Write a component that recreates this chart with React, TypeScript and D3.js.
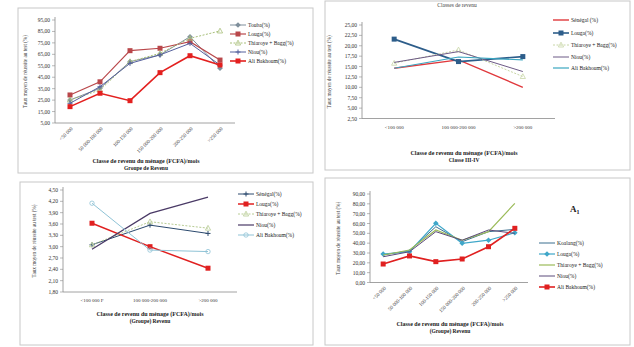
import * as d3 from 'd3'

// ---- data ----
const names1 = ['Touba(%)', 'Louga(%)', 'Thiaroye + Bagg(%)', 'Niou(%)', 'Ali Bakhoum(%)']
const names4 = ['Koalang(%)', 'Louga(%)', 'Thiaroye + Bagg(%)', 'Niou(%)', 'Ali Bakhoum(%)']

const cats6 = ['<50 000', '50 000-100 000', '100-150 000', '150 000-200 000', '200-250 000', '>250 000']
const cats3a = ['<100 000', '100 000-200 000', '>200 000']
const cats3b = ['<100 000 F', '100 000-200 000', '>200 000']

const ticksA = [5, 15, 25, 35, 45, 55, 65, 75, 85, 95]
const ticksB = [2.5, 5, 7.5, 10, 12.5, 15, 17.5, 20, 22.5, 25]
const ticksC = [1.8, 2.1, 2.4, 2.7, 3.0, 3.3, 3.6, 3.9, 4.2, 4.5]
const ticksD = [0, 10, 20, 30, 40, 50, 60, 70, 80, 90]

const a1 = [25.1, 35.3, 58.6, 64.5, 80.4, 52.8]
const a2 = [29.5, 41.0, 68.2, 70.3, 76.0, 60.0]
const a3 = [25.1, 33.8, 58.6, 65.9, 79.0, 85.4]
const a4 = [22.2, 36.7, 57.1, 64.5, 74.6, 55.6]
const a5 = [19.3, 31.0, 24.5, 49.0, 63.8, 55.7]

const b1 = [14.6, 16.6, 10.0]
const b2 = [21.6, 16.2, 17.4]
const b3 = [15.8, 19.0, 12.6]
const b4 = [16.0, 18.6, 13.8]
const b5 = [14.6, 17.3, 16.6]

const c1 = [3.05, 3.57, 3.35]
const c2 = [3.62, 3.0, 2.43]
const c3 = [3.05, 3.66, 3.49]
const c4 = [2.93, 3.88, 4.31]
const c5 = [4.15, 2.91, 2.87]

const d1 = [28.0, 32.3, 56.7, 41.5, 51.7, 54.0]
const d2 = [29.0, 31.3, 60.2, 39.9, 43.0, 50.6]
const d3v = [28.0, 33.0, 53.4, 43.0, 51.7, 80.5]
const d4 = [26.2, 31.3, 51.7, 43.0, 53.4, 50.0]
const d5 = [18.8, 27.0, 21.2, 23.9, 36.4, 55.1]

type Marker = 'square' | 'diamond' | 'triangle' | 'cross' | 'circle' | 'none'
interface Series { name: string; values: number[]; color: string; width: number; dash?: string; marker: Marker }
interface PanelCfg {
  box: [number, number, number, number]
  left: number; right: number; top: number; bottom: number
  cats: string[]; ticks: number[]; dec: number
  series: Series[]
  rotate: boolean
  legendX: number; legendY: number[]
  yTitleX: number
  xTitle: [string, string]; xTitleX: number; xTitleY: number
  title?: [string, number, number]
}

const font = '"Liberation Serif", "DejaVu Serif", serif'

function MarkerShape({ m, x, y, c }: { m: Marker; x: number; y: number; c: string }) {
  if (m === 'square') return <rect x={x - 2.5} y={y - 2.5} width={5} height={5} fill={c} />
  if (m === 'diamond') return <path d={`M${x},${y - 2.8}L${x + 2.8},${y}L${x},${y + 2.8}L${x - 2.8},${y}Z`} fill={c} />
  if (m === 'triangle') return <path d={`M${x},${y - 2.8}L${x + 2.6},${y + 2}L${x - 2.6},${y + 2}Z`} fill="none" stroke={c} strokeWidth={0.8} />
  if (m === 'cross') return <path d={`M${x - 2.5},${y}H${x + 2.5}M${x},${y - 2.5}V${y + 2.5}`} stroke={c} strokeWidth={1} />
  if (m === 'circle') return <circle cx={x} cy={y} r={2.2} fill="none" stroke={c} strokeWidth={0.8} />
  return null
}

function Panel({ cfg }: { cfg: PanelCfg }) {
  const x = d3.scalePoint<string>().domain(cfg.cats).range([cfg.left, cfg.right]).padding(0.5)
  const y = d3.scaleLinear().domain([cfg.ticks[0], cfg.ticks[cfg.ticks.length - 1]]).range([cfg.bottom, cfg.top])
  const line = d3.line<number>().x((_, i) => x(cfg.cats[i]) as number).y(v => y(v))
  const fmt = (v: number) => v.toFixed(cfg.dec).replace('.', ',')
  const [bx, by, bw, bh] = cfg.box
  const mid = (cfg.top + cfg.bottom) / 2
  return (
    <g>
      <rect x={bx} y={by} width={bw} height={bh} fill="#fff" stroke="#c8c8c8" strokeWidth={1} />
      {cfg.title && (
        <text x={cfg.title[1]} y={cfg.title[2]} fontSize={5.5} textAnchor="middle" fill="#444">{cfg.title[0]}</text>
      )}
      <line x1={cfg.left} x2={cfg.left} y1={cfg.top - 3} y2={cfg.bottom} stroke="#8a8a8a" strokeWidth={0.8} />
      <line x1={cfg.left} x2={cfg.right} y1={cfg.bottom} y2={cfg.bottom} stroke="#8a8a8a" strokeWidth={0.8} />
      {cfg.ticks.map(t => (
        <g key={t}>
          <line x1={cfg.left - 3} x2={cfg.left} y1={y(t)} y2={y(t)} stroke="#8a8a8a" strokeWidth={0.6} />
          <text x={cfg.left - 5} y={y(t) + 2} fontSize={5.5} textAnchor="end" fill="#333">{fmt(t)}</text>
        </g>
      ))}
      <text transform={`translate(${cfg.yTitleX},${mid}) rotate(-90)`} fontSize={5.2} textAnchor="middle" fill="#444">
        Taux moyen de réussite au test (%)
      </text>
      {cfg.cats.map(c => {
        const cx = x(c) as number
        return cfg.rotate ? (
          <text key={c} transform={`translate(${cx + 3},${cfg.bottom + 6}) rotate(-45)`} fontSize={5} textAnchor="end" fill="#333">{c}</text>
        ) : (
          <text key={c} x={cx} y={cfg.bottom + 10} fontSize={5} textAnchor="middle" fill="#333">{c}</text>
        )
      })}
      {cfg.series.map(s => (
        <g key={s.name}>
          <path d={line(s.values) || ''} fill="none" stroke={s.color} strokeWidth={s.width} strokeDasharray={s.dash} />
          {s.values.map((v, i) => (
            <MarkerShape key={i} m={s.marker} x={x(cfg.cats[i]) as number} y={y(v)} c={s.color} />
          ))}
        </g>
      ))}
      {cfg.series.map((s, i) => (
        <g key={'lg' + i}>
          <line x1={cfg.legendX} x2={cfg.legendX + 16} y1={cfg.legendY[i]} y2={cfg.legendY[i]} stroke={s.color} strokeWidth={s.width} strokeDasharray={s.dash} />
          <MarkerShape m={s.marker} x={cfg.legendX + 8} y={cfg.legendY[i]} c={s.color} />
          <text x={cfg.legendX + 18} y={cfg.legendY[i] + 2} fontSize={5.5} fill="#222">{s.name}</text>
        </g>
      ))}
      <text x={cfg.xTitleX} y={cfg.xTitleY} fontSize={6} fontWeight="bold" textAnchor="middle" fill="#222">{cfg.xTitle[0]}</text>
      <text x={cfg.xTitleX} y={cfg.xTitleY + 7} fontSize={5.5} fontWeight="bold" textAnchor="middle" fill="#222">{cfg.xTitle[1]}</text>
    </g>
  )
}

const panels: PanelCfg[] = [
  {
    box: [18, 8, 295, 165], left: 55, right: 235, top: 20, bottom: 123,
    cats: cats6, ticks: ticksA, dec: 2, rotate: true,
    series: [
      { name: names1[0], values: a1, color: '#7f8f9c', width: 1, marker: 'diamond' },
      { name: names1[1], values: a2, color: '#b9474a', width: 1.2, marker: 'square' },
      { name: names1[2], values: a3, color: '#a8bf7a', width: 1, dash: '2,1.5', marker: 'triangle' },
      { name: names1[3], values: a4, color: '#55609c', width: 1, marker: 'cross' },
      { name: names1[4], values: a5, color: '#e3201f', width: 1.6, marker: 'square' }
    ],
    legendX: 230, legendY: [25, 34, 43, 52, 61], yTitleX: 27,
    xTitle: ['Classe de revenu du ménage (FCFA)/mois', 'Groupe de Revenu'], xTitleX: 146, xTitleY: 163
  },
  {
    box: [325, 1, 305, 169], left: 362, right: 555, top: 25, bottom: 118.5,
    cats: cats3a, ticks: ticksB, dec: 2, rotate: false,
    series: [
      { name: 'Sénégal (%)', values: b1, color: '#e0383c', width: 1.4, marker: 'none' },
      { name: 'Louga(%)', values: b2, color: '#2d5d8a', width: 1.6, marker: 'square' },
      { name: 'Thiaroye + Bagg(%)', values: b3, color: '#c8d6a6', width: 1, dash: '2,1.5', marker: 'triangle' },
      { name: 'Niou(%)', values: b4, color: '#6d5a86', width: 1, marker: 'none' },
      { name: 'Ali Bakhoum(%)', values: b5, color: '#3aa6c0', width: 1.2, marker: 'none' }
    ],
    legendX: 553, legendY: [20, 33, 45, 57, 68], yTitleX: 331,
    xTitle: ['Classe de revenu du ménage (FCFA)/mois', 'Classe III-IV'], xTitleX: 464, xTitleY: 155,
    title: ['Classes de revenu', 457, 7]
  },
  {
    box: [20, 182, 293, 163], left: 63, right: 237, top: 190, bottom: 292,
    cats: cats3b, ticks: ticksC, dec: 2, rotate: false,
    series: [
      { name: 'Sénégal(%)', values: c1, color: '#2c4a6e', width: 1, marker: 'cross' },
      { name: 'Louga(%)', values: c2, color: '#e02020', width: 1.5, marker: 'square' },
      { name: 'Thiaroye + Bagg(%)', values: c3, color: '#b8cc94', width: 1, dash: '2,1.5', marker: 'triangle' },
      { name: 'Niou(%)', values: c4, color: '#4a3a66', width: 1.2, marker: 'none' },
      { name: 'Ali Bakhoum(%)', values: c5, color: '#8fc3d6', width: 1, marker: 'circle' }
    ],
    legendX: 238, legendY: [194, 204, 214, 225, 235], yTitleX: 36,
    xTitle: ['Classe de revenu du ménage (FCFA)/mois', '(Groupe) Revenu'], xTitleX: 150, xTitleY: 316
  },
  {
    box: [325, 178, 305, 167], left: 370, right: 528, top: 194, bottom: 282.5,
    cats: cats6, ticks: ticksD, dec: 2, rotate: true,
    series: [
      { name: names4[0], values: d1, color: '#3b6f8f', width: 1, marker: 'none' },
      { name: names4[1], values: d2, color: '#3fa7c9', width: 1.2, marker: 'diamond' },
      { name: names4[2], values: d3v, color: '#9bbb59', width: 1.2, marker: 'none' },
      { name: names4[3], values: d4, color: '#5b4a7a', width: 1, marker: 'none' },
      { name: names4[4], values: d5, color: '#e02020', width: 1.6, marker: 'square' }
    ],
    legendX: 539, legendY: [243, 254, 265, 276, 287], yTitleX: 340,
    xTitle: ['Classe de revenu du ménage (FCFA)/mois', '(Groupe) Revenu'], xTitleX: 450, xTitleY: 326
  }
]

export default function App() {
  return (
    <svg width={634} height={347} style={{ position: 'absolute', left: 0, top: 0, fontFamily: font }}>
      <rect width={634} height={347} fill="#fff" />
      {panels.map((p, i) => <Panel key={i} cfg={p} />)}
      <text x={570} y={212} fontSize={9} fontWeight="bold" fill="#222">A<tspan fontSize={6} dy={2}>1</tspan></text>
    </svg>
  )
}
